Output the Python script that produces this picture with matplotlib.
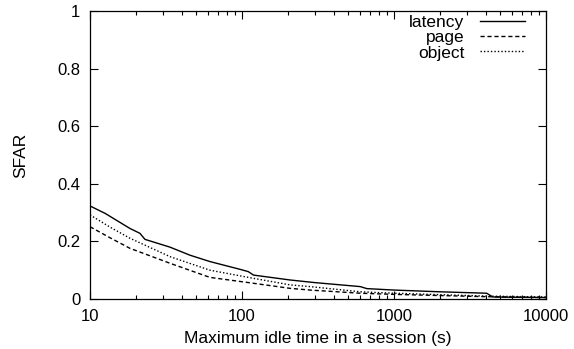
import matplotlib
matplotlib.use("Agg")
import matplotlib.pyplot as plt
from matplotlib.ticker import FixedLocator, FixedFormatter, LogLocator, NullFormatter

plt.rcParams['font.family'] = ['Liberation Sans', 'DejaVu Sans']

# idle time (s) and SFAR per metric
idle_lat = [10, 12.6, 18.3, 21.3, 23, 33.6, 45.5, 61.5, 97, 110, 119, 207, 300,
            600, 663, 1000, 2000, 4070, 4470, 6000, 10000]
sfar_lat = [0.323, 0.297, 0.245, 0.228, 0.207, 0.18, 0.152, 0.13, 0.103, 0.095,
            0.083, 0.066, 0.057, 0.043, 0.036, 0.031, 0.025, 0.02, 0.007, 0.006,
            0.005]

idle_obj = [10, 13.5, 18.3, 33.6, 61.5, 110, 207, 280, 600, 1000, 2000,
            4070, 10000]
sfar_obj = [0.292, 0.25, 0.211, 0.147, 0.10, 0.075, 0.049, 0.043,
            0.025, 0.02, 0.015, 0.01, 0.007]

idle_page = [10, 13.5, 18.3, 33.6, 61.5, 110, 207, 280, 600, 1000, 2000,
             4070, 10000]
sfar_page = [0.251, 0.213, 0.176, 0.124, 0.075, 0.057, 0.037, 0.031,
             0.02, 0.016, 0.012, 0.008, 0.005]

x_ticks = [10, 100, 1000, 10000]
x_labels = ['10', '100', '1000', '10000']
y_ticks = [0, 0.2, 0.4, 0.6, 0.8, 1]
y_labels = ['0', '0.2', '0.4', '0.6', '0.8', '1']

fig = plt.figure(figsize=(5.74, 3.49), dpi=100)
ax = fig.add_axes([0.1568, 0.1433, 0.7944, 0.8252])

ax.plot(idle_lat, sfar_lat, color='black', lw=1.0, ls='-', label='latency')
ax.plot(idle_page, sfar_page, color='black', lw=1.0, ls=(0, (3, 2)), label='page')
ax.plot(idle_obj, sfar_obj, color='black', lw=1.0, ls=(0, (1, 1.5)), label='object')

ax.set_xscale('log')
ax.set_xlim(10, 10000)
ax.set_ylim(0, 1)
ax.xaxis.set_major_locator(FixedLocator(x_ticks))
ax.xaxis.set_major_formatter(FixedFormatter(x_labels))
ax.xaxis.set_minor_locator(LogLocator(base=10, subs=range(2, 10)))
ax.xaxis.set_minor_formatter(NullFormatter())
ax.set_yticks(y_ticks)
ax.set_yticklabels(y_labels)

ax.tick_params(which='both', direction='in', top=True, right=True, labelsize=12, pad=7)
ax.tick_params(which='major', length=6, width=0.8)
ax.tick_params(which='minor', length=3, width=0.8)
for s in ax.spines.values():
    s.set_linewidth(0.9)

ax.set_xlabel('Maximum idle time in a session (s)', fontsize=12.5, labelpad=5)
ax.set_ylabel('SFAR', fontsize=12.5, labelpad=21)

ax.legend(loc='upper right', bbox_to_anchor=(0.962, 0.998), frameon=False,
          markerfirst=False, fontsize=12.5, handlelength=2.6, handletextpad=0.9,
          labelspacing=0.0, borderpad=0.2, borderaxespad=0.0)

fig.savefig('out.png', dpi=100)
